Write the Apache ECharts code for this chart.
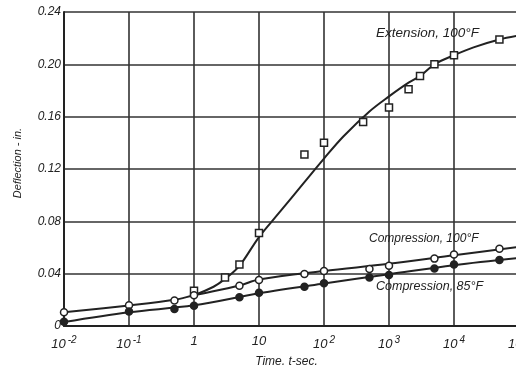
<!DOCTYPE html>
<html><head><meta charset="utf-8">
<script src="https://cdn.jsdelivr.net/npm/echarts@6/dist/echarts.min.js"></script>
<style>html,body{margin:0;padding:0;background:#fff}#c{width:516px;height:365px}</style>
</head><body><div id="c"></div>
<script>
// Measured points (time in s, deflection in in.)
const extT = [1, 3, 5, 10, 50, 100, 400, 1000, 2000, 3000, 5000, 10000, 50000];
const extV = [0.027, 0.037, 0.047, 0.071, 0.131, 0.140, 0.156, 0.167, 0.181, 0.191, 0.200, 0.207, 0.219];
const c100T = [0.01, 0.1, 0.5, 1, 5, 10, 50, 100, 500, 1000, 5000, 10000, 50000];
const c100V = [0.0105, 0.0158, 0.0194, 0.0235, 0.0308, 0.0352, 0.0398, 0.042, 0.0436, 0.046, 0.0515, 0.0546, 0.059];
const c85T = [0.01, 0.1, 0.5, 1, 5, 10, 50, 100, 500, 1000, 5000, 10000, 50000];
const c85V = [0.0033, 0.011, 0.013, 0.0155, 0.022, 0.0255, 0.030, 0.0327, 0.037, 0.039, 0.044, 0.047, 0.0505];
// Fitted curves
const extCurveT = [1, 2, 3, 5, 10, 20, 50, 100, 200, 500, 1000, 2000, 3000, 5000, 10000, 20000, 50000, 100000];
const extCurveV = [0.0235, 0.030, 0.036, 0.046, 0.068, 0.086, 0.110, 0.128, 0.145, 0.164, 0.1755, 0.186, 0.191, 0.200, 0.207, 0.213, 0.219, 0.222];
const c100CurveT = [0.01, 0.1, 0.5, 1, 5, 10, 100, 1000, 10000, 100000];
const c100CurveV = [0.0105, 0.0157, 0.020, 0.0235, 0.031, 0.0355, 0.042, 0.0475, 0.054, 0.0605];
const c85CurveT = [0.01, 0.1, 1, 10, 100, 1000, 10000, 100000];
const c85CurveV = [0.003, 0.0105, 0.0158, 0.025, 0.0325, 0.0395, 0.0465, 0.052];
const yTicks = [0, 0.04, 0.08, 0.12, 0.16, 0.20, 0.24];
const labels = ['Extension, 100°F', 'Compression, 100°F', 'Compression, 85°F'];
const xName = 'Time, t-sec.';
const yName = 'Deflection - in.';

const zip = (t, v) => t.map((x, i) => [x, v[i]]);
const ink = '#222';
const font = 'Liberation Sans';
const chart = echarts.init(document.getElementById('c'), null, {renderer: 'canvas'});
const lineS = (t, v) => ({type: 'line', data: zip(t, v), smooth: 0.35, showSymbol: false, symbol: 'none',
  lineStyle: {color: ink, width: 2}, z: 3, silent: true});
const ptS = (t, v, sym, fill) => ({type: 'scatter', data: zip(t, v), symbol: sym, symbolSize: 7,
  itemStyle: {color: fill, borderColor: ink, borderWidth: 1.5, opacity: 1}, z: 5});
chart.setOption({
  backgroundColor: '#fff',
  animation: false,
  grid: {left: 64, top: 12, bottom: 39, right: -3, containLabel: false, outerBoundsMode: 'none'},
  xAxis: {
    type: 'log', logBase: 10, min: 0.01, max: 100000,
    name: xName, nameLocation: 'middle', nameGap: 25,
    nameTextStyle: {color: ink, fontStyle: 'italic', fontFamily: font, fontSize: 12, padding: [0, 10, 0, 0]},
    axisLine: {lineStyle: {color: ink, width: 2}},
    axisTick: {show: false},
    splitLine: {show: true, lineStyle: {color: '#333', width: 1.6}},
    axisLabel: {
      margin: 9, color: ink, fontStyle: 'italic', fontFamily: font, fontSize: 13,
      formatter: v => {
        const e = Math.round(Math.log10(v));
        if (e === 0) return '{b|1}';
        if (e === 1) return '{b|10}';
        return '{b|10}{s|' + e + '}';
      },
      rich: {
        b: {fontSize: 13, fontStyle: 'italic', fontFamily: font, color: ink},
        s: {fontSize: 10, fontStyle: 'italic', fontFamily: font, color: ink, padding: [0, 0, 9, 2]}
      }
    }
  },
  yAxis: {
    type: 'value', min: yTicks[0], max: yTicks[yTicks.length - 1], interval: 0.04,
    name: yName, nameLocation: 'middle', nameGap: 41, nameRotate: 90,
    nameTextStyle: {color: ink, fontStyle: 'italic', fontFamily: font, fontSize: 11, padding: [0, 0, 0, 12]},
    axisLine: {show: true, lineStyle: {color: ink, width: 2}},
    axisTick: {show: false},
    splitLine: {show: true, lineStyle: {color: '#333', width: 1.6}},
    axisLabel: {margin: 3, color: ink, fontStyle: 'italic', fontFamily: font, fontSize: 12,
      formatter: v => Math.abs(v) < 1e-9 ? '0' : v.toFixed(2)}
  },
  series: [
    lineS(extCurveT, extCurveV),
    lineS(c100CurveT, c100CurveV),
    lineS(c85CurveT, c85CurveV),
    ptS(extT, extV, 'rect', '#fff'),
    ptS(c100T, c100V, 'circle', '#fff'),
    ptS(c85T, c85V, 'circle', ink)
  ],
  graphic: [
    {type: 'text', left: 376, top: 26, z: 10, style: {text: labels[0], fill: ink, font: 'italic 13.5px "Liberation Sans"'}},
    {type: 'text', left: 369, top: 233, z: 10, style: {text: labels[1], fill: ink, font: 'italic 12px "Liberation Sans"'}},
    {type: 'text', left: 376, top: 280, z: 10, style: {text: labels[2], fill: ink, font: 'italic 12.5px "Liberation Sans"'}}
  ]
});
</script></body></html>
